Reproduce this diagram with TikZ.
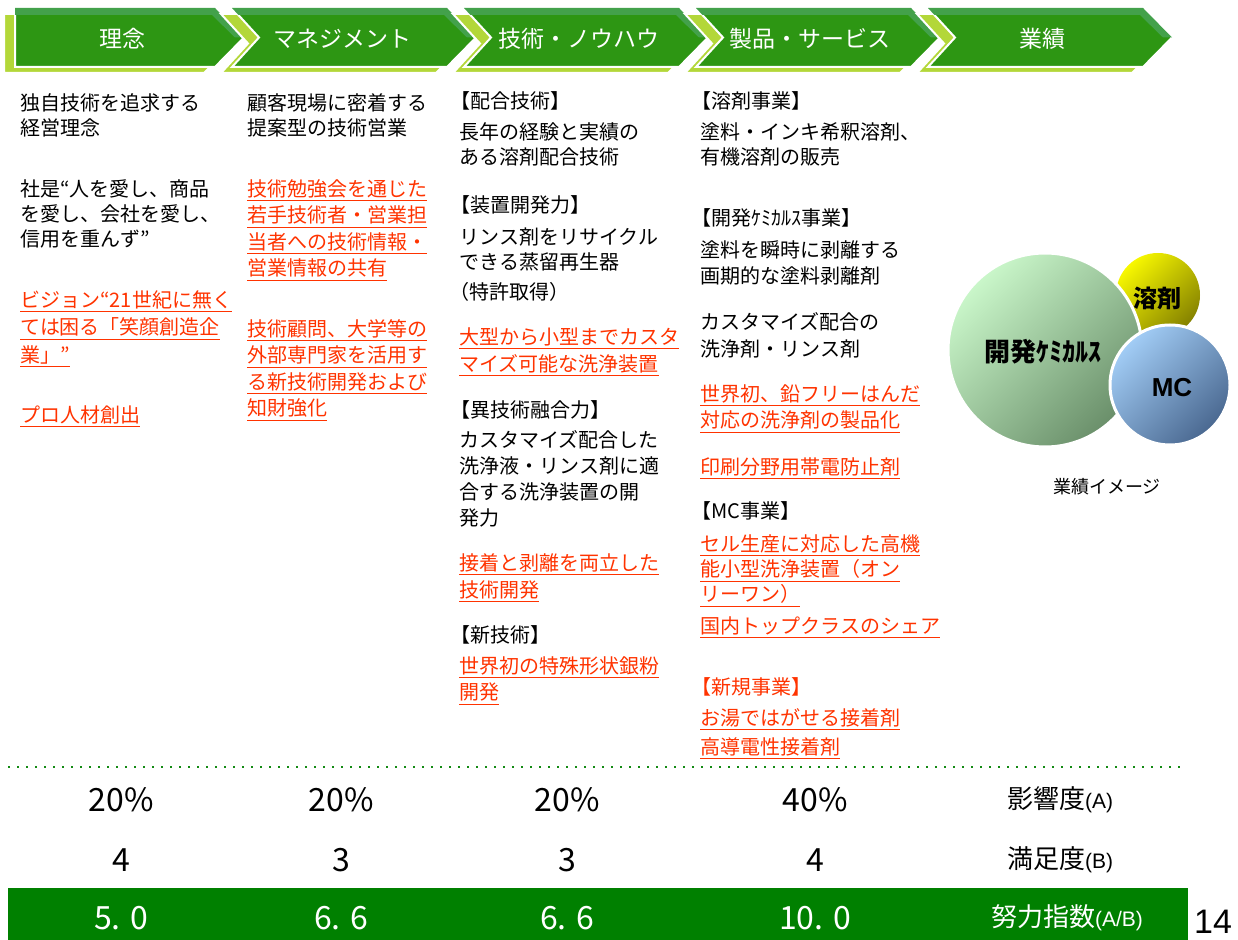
\documentclass[tikz,border=0pt]{standalone}
\usepackage{fontspec}
\setmainfont{Noto Sans CJK JP}
\newfontfamily\latinsans{Liberation Sans}
\usepackage{tikz}
\usetikzlibrary{positioning}

\definecolor{chevgreen}{HTML}{2D9613}
\definecolor{chevlight}{HTML}{43A14B}
\definecolor{chevlime}{HTML}{B3D739}
\definecolor{hotred}{HTML}{FF3300}
\definecolor{bandgreen}{HTML}{008000}
\definecolor{dotgreen}{HTML}{138A13}
\definecolor{chemtop}{HTML}{CAF7CA}
\definecolor{chembot}{HTML}{6A8F6A}
\definecolor{solvtop}{HTML}{F8F800}
\definecolor{solvbot}{HTML}{858200}
\definecolor{mctop}{HTML}{A2CDF6}
\definecolor{mcbot}{HTML}{4A6890}

\newcommand\redul[1]{\underline{#1}}
\newcommand\abtag[1]{{\latinsans\fontsize{10.5}{10.5}\selectfont #1}}

\tikzset{
        body/.style={anchor=north west, inner sep=0pt, align=left,
                     font=\fontsize{10}{12.5}\selectfont},
        hot/.style={body, text=hotred, font=\fontsize{10}{13.25}\selectfont},
        chevtext/.style={inner sep=0pt, text=white, font=\fontsize{11.5}{11.5}\selectfont},
        rowtext/.style={inner sep=0pt, font=\fontsize{16}{16}\selectfont},
        rowlabel/.style={inner sep=0pt, font=\fontsize{13}{13}\selectfont},
        bubble/.style={inner sep=0pt, font=\fontsize{12}{12}\selectfont\bfseries},
}

\begin{document}
\begin{tikzpicture}[x=0.5pt, y=-0.5pt]
        \useasboundingbox (0,0) rectangle (1238,940);

        % arrow band on top
        \foreach \lx/\nd/\rx/\tx/\lbl [count=\k] in
                {15/0/215/122/理念, 232/27/447/342/マネジメント,
                 464/27/679/579/技術・ノウハウ, 696/27/911/810/製品・サービス,
                 928/27/1143/1042/業績}
        {
                \path[fill=chevlime, draw=white, line width=1pt]
                        ({\lx-11},14) -- ({\rx-11},14) -- ({\rx+18},43.5)
                        -- ({\rx-11},73) -- ({\lx-11},73) -- ({\lx-11+\nd},43.5) -- cycle;
                \path[fill=chevgreen, draw=white, line width=1pt]
                        (\lx,8) -- (\rx,8) -- ({\rx+29},37.5) -- (\rx,67)
                        -- (\lx,67) -- ({\lx+\nd},37.5) -- cycle;
                \fill[chevlight] (\lx,8) -- (\rx,8) -- ({\rx+29},37.5) -- ({\rx+20},37.5)
                        -- ({\rx-3},15) -- ({\lx+0.24*\nd},15) -- cycle;
                \node[chevtext] (head\k) at (\tx,39) {\lbl};
        }

        % 理念
        \node[body] (creed) at (20,93) {独自技術を追求する\\経営理念};
        \node[body] (motto) at (20,179) {社是“人を愛し、商品\\を愛し、会社を愛し、\\信用を重んず”};
        \node[hot, font=\fontsize{10}{13.75}\selectfont] (vision) at (20,290)
                {\redul{ビジョン“21世紀に無く}\\\redul{ては困る「笑顔創造企}\\\redul{業」”}};
        \node[hot] (talent) at (20,405) {\redul{プロ人材創出}};

        % マネジメント
        \node[body] (sales) at (247,93) {顧客現場に密着する\\提案型の技術営業};
        \node[hot] (study) at (247,179)
                {\redul{技術勉強会を通じた}\\\redul{若手技術者・営業担}\\\redul{当者への技術情報・}\\\redul{営業情報の共有}};
        \node[hot] (advisor) at (247,319)
                {\redul{技術顧問、大学等の}\\\redul{外部専門家を活用す}\\\redul{る新技術開発および}\\\redul{知財強化}};

        % 技術・ノウハウ
        \node[body] (blendhd) at (450,91) {【配合技術】};
        \node[body] (blend) at (459,122) {長年の経験と実績の\\ある溶剤配合技術};
        \node[body] (devhd) at (450,195) {【装置開発力】};
        \node[body] (still) at (459,227) {リンス剤をリサイクル\\できる蒸留再生器};
        \node[body] (patent) at (449,282) {（特許取得）};
        \node[hot, font=\fontsize{10}{13.5}\selectfont] (washer) at (459,327)
                {\redul{大型から小型までカスタ}\\\redul{マイズ可能な洗浄装置}};
        \node[body] (fusehd) at (450,400) {【異技術融合力】};
        \node[body, font=\fontsize{10}{13}\selectfont] (fuse) at (459,430)
                {カスタマイズ配合した\\洗浄液・リンス剤に適\\合する洗浄装置の開\\発力};
        \node[hot, font=\fontsize{10}{13.5}\selectfont] (bond) at (459,553)
                {\redul{接着と剥離を両立した}\\\redul{技術開発}};
        \node[body] (newhd) at (450,625) {【新技術】};
        \node[hot] (silver) at (459,656) {\redul{世界初の特殊形状銀粉}\\\redul{開発}};

        % 製品・サービス
        \node[body] (solvhd) at (691,91) {【溶剤事業】};
        \node[body] (thinner) at (700,122) {塗料・インキ希釈溶剤、\\有機溶剤の販売};
        \node[body] (chemhd) at (691,208) {【開発ｹﾐｶﾙｽ事業】};
        \node[body, font=\fontsize{10}{13}\selectfont] (strip) at (700,240)
                {塗料を瞬時に剥離する\\画期的な塗料剥離剤};
        \node[body, font=\fontsize{10}{13.5}\selectfont] (rinse) at (700,312)
                {カスタマイズ配合の\\洗浄剤・リンス剤};
        \node[hot] (leadfree) at (700,384)
                {\redul{世界初、鉛フリーはんだ}\\\redul{対応の洗浄剤の製品化}};
        \node[hot] (antistat) at (700,457) {\redul{印刷分野用帯電防止剤}};
        \node[body] (mchd) at (691,501) {【MC事業】};
        \node[hot, font=\fontsize{10}{12.5}\selectfont] (cell) at (700,534)
                {\redul{セル生産に対応した高機}\\\redul{能小型洗浄装置（オン}\\\redul{リーワン）}};
        \node[hot] (share) at (700,616) {\redul{国内トップクラスのシェア}};
        \node[hot] (newbiz) at (691,677) {【新規事業】};
        \node[hot] (hotwater) at (700,708) {\redul{お湯ではがせる接着剤}};
        \node[hot] (conduct) at (700,737) {\redul{高導電性接着剤}};

        % 業績 bubbles
        \path[top color=solvtop, bottom color=solvbot, shading angle=45]
                (1158,295) circle (21pt);
        \path[top color=chemtop, bottom color=chembot, shading angle=45,
              draw=white, line width=1.5pt] (1045,350) circle (48.5pt);
        \path[top color=mctop, bottom color=mcbot, shading angle=45,
              draw=white, line width=1.5pt] (1170,385) circle (30pt);
        \node[bubble, font=\fontsize{13}{13}\selectfont\bfseries] (chem) at (1043,352) {開発ｹﾐｶﾙｽ};
        \node[bubble] (solv) at (1157,298) {溶剤};
        \node[bubble, font=\latinsans\bfseries\fontsize{13}{13}\selectfont] (mc) at (1172,388) {MC};
        \node[inner sep=0pt, font=\fontsize{9}{9}\selectfont] (image) at (1107,487) {業績イメージ};

        % evaluation rows
        \draw[dotgreen, line width=1pt, dash pattern=on 1pt off 3.5pt] (8,767) -- (1185,767);
        \fill[bandgreen] (8,888) rectangle (1188,940);
        \foreach \cx/\pct/\sat/\eff [count=\k] in
                {121/20/4/5. 0, 341/20/3/6. 6, 567/20/3/6. 6, 815/40/4/10. 0}
        {
                \node[rowtext] (impact\k) at (\cx,800) {\pct\%};
                \node[rowtext] (satis\k) at (\cx,860) {\sat};
                \node[rowtext, text=white] (effort\k) at (\cx,918) {\eff};
        }
        \node[rowlabel] (impactlbl) at (1060,800) {影響度\abtag{(A)}};
        \node[rowlabel] (satislbl) at (1060,860) {満足度\abtag{(B)}};
        \node[rowlabel, text=white] (effortlbl) at (1067,918) {努力指数\abtag{(A/B)}};
        \node[inner sep=0pt, font=\latinsans\fontsize{17}{17}\selectfont] (page) at (1213,922) {14};
\end{tikzpicture}
\end{document}
